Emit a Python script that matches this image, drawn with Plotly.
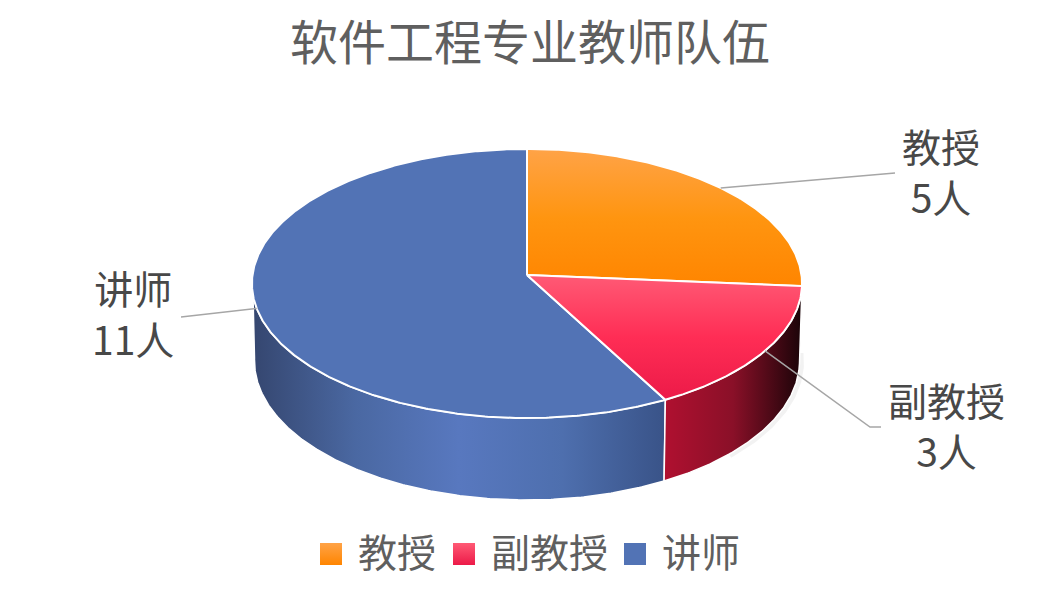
import numpy as np
import plotly.graph_objects as go

# 教师人数
categories = ['教授', '副教授', '讲师']
counts = [5, 3, 11]
label_pos = [(941, 170), (946, 424), (133, 312)]
leader_ends = [[(895, 173)], [(870, 427), (881, 427)], [(181, 317)]]
legend_x = [331, 464, 635]

# 纵向渐变：y 轴是反的，所以从下往上写
top_colors = [
    ['#FF8500', '#FF9510', '#FFA347'],
    ['#EC1A48', '#FF2D55', '#FF5A75'],
    ['#5273B5', '#5273B5', '#5273B5'],
]
wall_colors = [
    None,
    ['#B01030', '#8A1028', '#1A0408'],
    ['#35466F', '#4A68A2', '#5878BF', '#4E6FAE', '#395388'],
]

# 透视椭圆的参数（像素）
CX, TOP_Y, BASE_Y = 527, 275, 352
RX_TOP, RY_TOP = 274.5, 134
RX_BASE, RY_BASE = 272, 138.6
PERSP = -0.0632


def rim(deg, rx, ry, y0):
    t = np.radians(deg)
    s, c = np.sin(t), -np.cos(t)
    d = 1 + PERSP * c
    return CX + rx * s / d, y0 + ry * c / d


def arc(a, b):
    return np.linspace(a, b, max(int(abs(b - a)) * 2, 2))


angles = np.cumsum([0] + counts) / sum(counts) * 360

fig = go.Figure()

# 右侧的淡阴影
sx, sy = rim(arc(90, 135), RX_BASE + 2, RY_BASE, BASE_Y + 1)
fig.add_trace(go.Scatter(x=sx, y=sy, mode='lines', line=dict(color='rgba(0,0,0,0.05)', width=5),
                         showlegend=False, hoverinfo='skip'))

# 侧面
for i in [2, 1]:
    a = max(angles[i], 90)
    b = min(angles[i + 1], 270)
    deg = arc(a, b)
    x1, y1 = rim(deg, RX_TOP, RY_TOP, TOP_Y)
    x2, y2 = rim(deg[::-1], RX_BASE, RY_BASE, BASE_Y)
    stops = wall_colors[i]
    scale = [[j / (len(stops) - 1), col] for j, col in enumerate(stops)]
    fig.add_trace(go.Scatter(
        x=np.r_[x1, x2, x1[0]], y=np.r_[y1, y2, y1[0]], mode='lines', fill='toself',
        fillgradient=dict(type='horizontal', colorscale=scale),
        line=dict(color='white', width=1.5), showlegend=False, hoverinfo='skip'))

# 顶面
for i in [2, 0, 1]:
    x, y = rim(arc(angles[i], angles[i + 1]), RX_TOP, RY_TOP, TOP_Y)
    stops = top_colors[i]
    scale = [[j / 2, col] for j, col in enumerate(stops)]
    fig.add_trace(go.Scatter(
        x=np.r_[CX, x, CX], y=np.r_[TOP_Y, y, TOP_Y], mode='lines', fill='toself',
        fillgradient=dict(type='vertical', colorscale=scale),
        line=dict(color='white', width=2), showlegend=False, hoverinfo='skip'))

# 引导线和数据标签
for i, name in enumerate(categories):
    mx, my = rim((angles[i] + angles[i + 1]) / 2, RX_TOP, RY_TOP, TOP_Y)
    pts = leader_ends[i]
    fig.add_trace(go.Scatter(x=[mx] + [p[0] for p in pts], y=[my] + [p[1] for p in pts], mode='lines',
                             line=dict(color='#A6A6A6', width=1.5), showlegend=False, hoverinfo='skip'))
    fig.add_annotation(x=label_pos[i][0], y=label_pos[i][1], text=f'{name}<br>{counts[i]}人', showarrow=False,
                       align='center', font=dict(size=39, color='#484848'))

# 图例
for i, name in enumerate(categories):
    fig.add_trace(go.Scatter(
        x=[legend_x[i]], y=[554], mode='markers',
        marker=dict(symbol='square', size=22, color=top_colors[i][2],
                    gradient=dict(type='vertical', color=top_colors[i][0])),
        showlegend=False, hoverinfo='skip'))
    fig.add_annotation(x=legend_x[i] + 25, y=550, text=name, showarrow=False, xanchor='left',
                       font=dict(size=39, color='#5F5F5F'))

fig.update_layout(
    width=1060, height=608,
    margin=dict(l=0, r=0, t=0, b=0),
    paper_bgcolor='white', plot_bgcolor='white',
    font=dict(family='Noto Sans CJK SC'),
    title=dict(text='软件工程专业教师队伍', x=0.5, xanchor='center', y=1 - 43 / 608, yanchor='middle',
               font=dict(size=48, color='#5F5F5F')),
    xaxis=dict(range=[0, 1060], visible=False, fixedrange=True),
    yaxis=dict(range=[608, 0], visible=False, fixedrange=True),
    showlegend=False,
)

# 页面默认有 8px 边距
fig.write_html("out.html", config={'displayModeBar': False}, post_script="document.body.style.margin='0';")
